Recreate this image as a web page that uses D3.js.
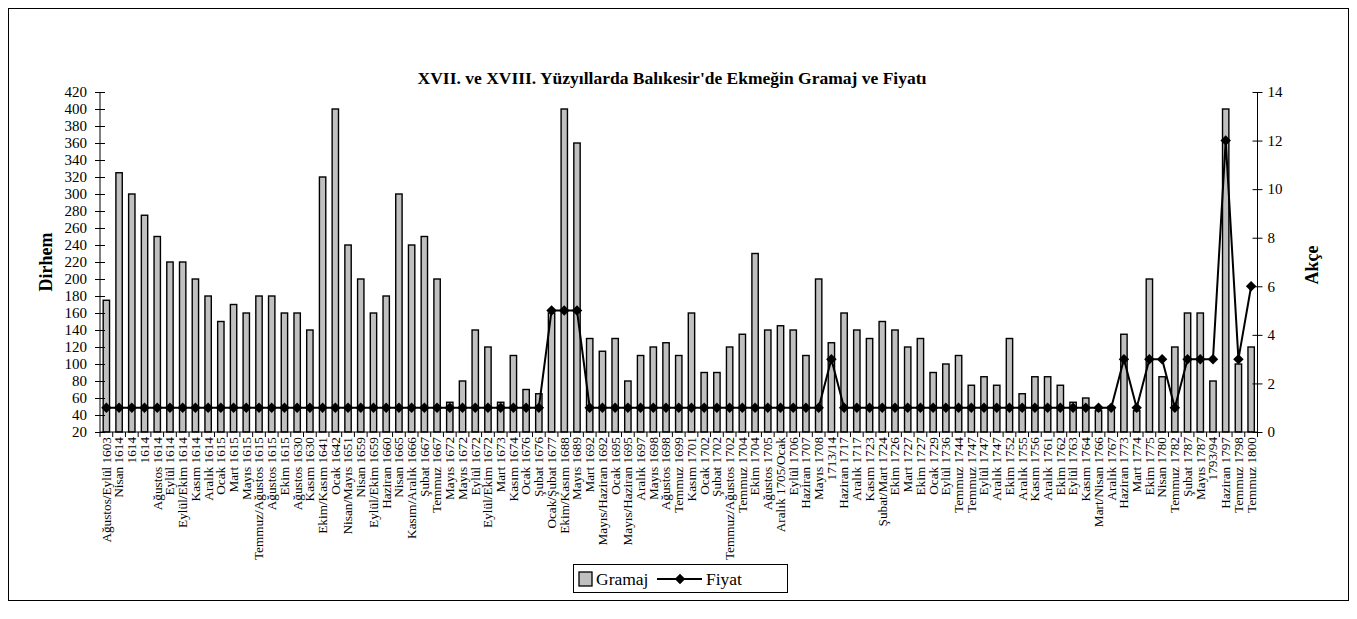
<!DOCTYPE html>
<html>
<head>
<meta charset="utf-8">
<script src="https://cdn.jsdelivr.net/npm/d3@7/dist/d3.min.js"></script>
<style>
  html, body { margin: 0; padding: 0; background: #fff; }
  svg { display: block; font-family: "Liberation Serif", "Times New Roman", serif; }
</style>
</head>
<body>
<svg id="chart" width="1357" height="619"></svg>
<script>
const categories = [
  "Ağustos/Eylül 1603","Nisan 1614","1614","1614","Ağustos 1614","Eylül 1614","Eylül/Ekim 1614","Kasım 1614","Aralık 1614","Ocak 1615",
  "Mart 1615","Mayıs 1615","Temmuz/Ağustos 1615","Ağustos 1615","Ekim 1615","Ağustos 1630","Kasım 1630","Ekim/Kasım 1641","Ocak 1642","Nisan/Mayıs 1651",
  "Nisan 1659","Eylül/Ekim 1659","Haziran 1660","Nisan 1665","Kasım/Aralık 1666","Şubat 1667","Temmuz 1667","Mayıs 1672","Mayıs 1672","Eylül 1672",
  "Eylül/Ekim 1672","Mart 1673","Kasım 1674","Ocak 1676","Şubat 1676","Ocak/Şubat 1677","Ekim/Kasım 1688","Mayıs 1689","Mart 1692","Mayıs/Haziran 1692",
  "Ocak 1695","Mayıs/Haziran 1695","Aralık 1697","Mayıs 1698","Ağustos 1698","Temmuz 1699","Kasım 1701","Ocak 1702","Şubat 1702","Temmuz/Ağustos 1702",
  "Temmuz 1704","Ekim 1704","Ağustos 1705","Aralık 1705/Ocak","Eylül 1706","Haziran 1707","Mayıs 1708","1713/14","Haziran 1717","Aralık 1717",
  "Kasım 1723","Şubat/Mart 1724","Ekim 1726","Mart 1727","Ekim 1727","Ocak 1729","Eylül 1736","Temmuz 1744","Temmuz 1747","Eylül 1747",
  "Aralık 1747","Ekim 1752","Aralık 1755","Kasım 1756","Aralık 1761","Ekim 1762","Eylül 1763","Kasım 1764","Mart/Nisan 1766","Aralık 1767",
  "Haziran 1773","Mart 1774","Ekim 1775","Nisan 1780","Temmuz 1782","Şubat 1787","Mayıs 1787","1793/94","Haziran 1797","Temmuz 1798",
  "Temmuz 1800"
];
const gramaj = [
  175,325,300,275,250,220,220,200,180,150,
  170,160,180,180,160,160,140,320,400,240,
  200,160,180,300,240,250,200,55,80,140,
  120,55,110,70,65,160,400,360,130,115,
  130,80,110,120,125,110,160,90,90,120,
  135,230,140,145,140,110,200,125,160,140,
  130,150,140,120,130,90,100,110,75,85,
  75,130,65,85,85,75,55,60,45,50,
  135,45,200,85,120,160,160,80,400,100,
  120
];
const fiyat = [
  1,1,1,1,1,1,1,1,1,1,
  1,1,1,1,1,1,1,1,1,1,
  1,1,1,1,1,1,1,1,1,1,
  1,1,1,1,1,5,5,5,1,1,
  1,1,1,1,1,1,1,1,1,1,
  1,1,1,1,1,1,1,3,1,1,
  1,1,1,1,1,1,1,1,1,1,
  1,1,1,1,1,1,1,1,1,1,
  3,1,3,3,1,3,3,3,12,3,
  6
];
const leftTicks = d3.range(20, 421, 20);
const rightTicks = d3.range(0, 15, 2);
const titleText = "XVII. ve XVIII. Yüzyıllarda Balıkesir'de Ekmeğin Gramaj ve Fiyatı";
const seriesNames = ["Gramaj", "Fiyat"];

const svg = d3.select("#chart");
const plotL = 100, plotR = 1257.5, plotT = 92, plotB = 432;

// outer border
svg.append("rect").attr("x", 8.5).attr("y", 8.5).attr("width", 1340).attr("height", 592)
  .attr("fill", "none").attr("stroke", "#000").attr("stroke-width", 1);

const idx = d3.range(categories.length);
const x = d3.scaleBand().domain(idx).range([plotL, plotR]).paddingInner(0.5).paddingOuter(0.25);
const yL = d3.scaleLinear().domain([20, 420]).range([plotB, plotT]);
const yR = d3.scaleLinear().domain([0, 14]).range([plotB, plotT]);

// title
svg.append("text").attr("x", 672).attr("y", 84).attr("text-anchor", "middle")
  .attr("font-weight", "bold").attr("font-size", 17.5).text(titleText);

// bars
svg.append("g").selectAll("rect").data(gramaj).join("rect")
  .attr("x", (d, i) => x(i)).attr("width", x.bandwidth())
  .attr("y", d => yL(d)).attr("height", d => yL(20) - yL(d))
  .attr("fill", "#c0c0c0").attr("stroke", "#000").attr("stroke-width", 1.4);

// left axis
const gL = svg.append("g").attr("transform", `translate(${plotL},0)`)
  .call(d3.axisLeft(yL).tickValues(leftTicks).tickSize(5).tickPadding(8));
gL.selectAll(".tick line").attr("x2", -5).attr("x1", 5);
gL.select(".domain").attr("d", `M0,${plotT}V${plotB}`);
gL.selectAll("text").attr("font-size", 15).attr("font-family", "Liberation Serif");

// right axis
const gR = svg.append("g").attr("transform", `translate(${plotR},0)`)
  .call(d3.axisRight(yR).tickValues(rightTicks).tickSize(5).tickPadding(5));
gR.selectAll(".tick line").attr("x1", -5).attr("x2", 5);
gR.select(".domain").attr("d", `M0,${plotT}V${plotB}`);
gR.selectAll("text").attr("font-size", 15).attr("font-family", "Liberation Serif");

// bottom axis
const gB = svg.append("g").attr("transform", `translate(0,${plotB})`)
  .call(d3.axisBottom(x).tickSize(0).tickPadding(0).tickFormat(i => categories[i]));
gB.select(".domain").attr("d", `M${plotL},0H${plotR}`);
gB.selectAll(".tick text")
  .attr("font-size", 12.5).attr("font-family", "Liberation Serif")
  .attr("text-anchor", "end")
  .attr("transform", "translate(0,5) rotate(-90) scale(1.06,1)")
  .attr("x", 0).attr("y", 0).attr("dy", "0.35em");
// boundary ticks
svg.append("g").selectAll("line").data(d3.range(categories.length + 1)).join("line")
  .attr("x1", i => plotL + i * x.step()).attr("x2", i => plotL + i * x.step())
  .attr("y1", plotB).attr("y2", plotB + 5).attr("stroke", "#000");

// line
const line = d3.line().x((d, i) => x(i) + x.bandwidth() / 2).y(d => yR(d));
svg.append("path").datum(fiyat).attr("d", line)
  .attr("fill", "none").attr("stroke", "#000").attr("stroke-width", 2);
const diamond = d3.symbol().type(d3.symbolDiamond2).size(70);
svg.append("g").selectAll("path").data(fiyat).join("path")
  .attr("d", diamond)
  .attr("transform", (d, i) => `translate(${x(i) + x.bandwidth() / 2},${yR(d)})`)
  .attr("fill", "#000");

// axis titles
svg.append("text").attr("transform", "translate(52,262) rotate(-90)")
  .attr("text-anchor", "middle").attr("font-weight", "bold").attr("font-size", 18).text("Dirhem");
svg.append("text").attr("transform", "translate(1318,265) rotate(-90)")
  .attr("text-anchor", "middle").attr("font-weight", "bold").attr("font-size", 18).text("Akçe");

// legend
const lg = svg.append("g");
lg.append("rect").attr("x", 573.5).attr("y", 564.5).attr("width", 214).attr("height", 28)
  .attr("fill", "#fff").attr("stroke", "#000");
lg.append("rect").attr("x", 579).attr("y", 572).attr("width", 13).attr("height", 14)
  .attr("fill", "#c0c0c0").attr("stroke", "#000").attr("stroke-width", 1.3);
lg.append("text").attr("x", 596).attr("y", 585).attr("font-size", 17.5).text(seriesNames[0]);
lg.append("line").attr("x1", 657).attr("x2", 702).attr("y1", 579).attr("y2", 579)
  .attr("stroke", "#000").attr("stroke-width", 2);
lg.append("path").attr("d", diamond).attr("transform", "translate(680,579)").attr("fill", "#000");
lg.append("text").attr("x", 706).attr("y", 585).attr("font-size", 17.5).text(seriesNames[1]);
</script>
</body>
</html>
